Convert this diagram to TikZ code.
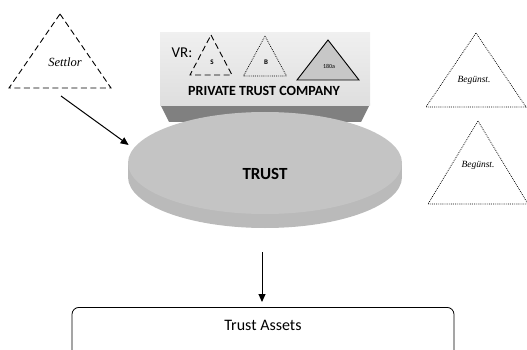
\documentclass[tikz,border=0pt]{standalone}
\usepackage{fontspec}
\newfontfamily\calibri{Carlito}
\newfontfamily\cambria{Liberation Serif}
\usetikzlibrary{arrows.meta,shapes.geometric,positioning}

\begin{document}
\begin{tikzpicture}[x=1pt,y=-1pt,
  tri/.style={line width=0.9pt, line join=miter},
  dashtri/.style={tri, dash pattern=on 6pt off 3.5pt},
  dottri/.style={line width=0.75pt, dash pattern=on 0.8pt off 1.1pt},
  fulltri/.style={tri, fill=black!22},
  arr/.style={line width=1pt, -{Triangle[length=8pt,width=7pt]}},
  party/.style={font=\cambria\itshape\fontsize{12.5}{12.5}\selectfont},
  benef/.style={font=\cambria\itshape\fontsize{9.5}{9.5}\selectfont},
  tiny/.style={font=\calibri\bfseries\fontsize{7}{7}\selectfont},
  caption/.style={font=\calibri\bfseries\fontsize{14}{14}\selectfont}]

\useasboundingbox (0,0) rectangle (527,350);
\clip (0,0) rectangle (527,350);

% private trust company: bevel and face
\fill[black!50] (160,104) -- (370,104) -- (361,122) -- (169,122) -- cycle;
\node[inner sep=0, minimum width=210pt, minimum height=73pt,
      top color=black!6, bottom color=black!13] (ptc) at (265,69.5) {};

% triangles: apex x / apex y / half width / height / style
\foreach \ax/\ay/\hw/\h/\look in {
  60/14/51/74/dashtri,
  211/35/21/40/dashtri,
  265/36/21.5/40/dottri,
  328/40/31/40/fulltri,
  476/33/50/74/dottri,
  478/121/50/83/dottri}
    \draw[\look] (\ax,\ay) -- ++(\hw,\h) -- ++(-2*\hw,0) -- cycle;

\node[font=\calibri\fontsize{15}{15}\selectfont] (vr) at (182,53) {VR:};
\node[tiny] (settlorvr) at (212,62) {S};
\node[tiny] (benefvr) at (266,62) {B};
\node[font=\calibri\fontsize{6}{6}\selectfont] (boardvr) at (329,66) {180a};
\node[caption] (ptclabel) at (264,90.5) {PRIVATE TRUST COMPANY};

\node[party] (settlor) at (65,62) {Settlor};
\node[benef] (benefone) at (474,80) {Begünst.};
\node[benef] (beneftwo) at (478,165) {Begünst.};
\coordinate (settlorfoot) at (61,96);

% trust disk: rim first, then the top face
\fill[black!27] (265,177) ellipse [x radius=137, y radius=51];
\fill[black!27] (128,163) rectangle (402,177);
\node[ellipse, inner sep=0, fill=black!23, minimum width=274pt,
      minimum height=102pt] (trust) at (265,163) {};
\node[font=\calibri\bfseries\fontsize{17}{17}\selectfont] (trustlabel) at (265,174) {TRUST};

\node[draw, line width=0.8pt, rounded corners=7pt, anchor=north, inner sep=0,
      minimum width=382pt, minimum height=52pt, text height=9pt, text depth=15pt,
      font=\calibri\fontsize{16}{16}\selectfont] (assets) at (263,307) {Trust Assets};

\draw[arr] (settlorfoot) -- ([xshift=-8pt]trust.172);
\draw[arr] ([shift={(-3pt,-38pt)}]trust.south) -- ([shift={(-1pt,5pt)}]assets.north);

\end{tikzpicture}
\end{document}
